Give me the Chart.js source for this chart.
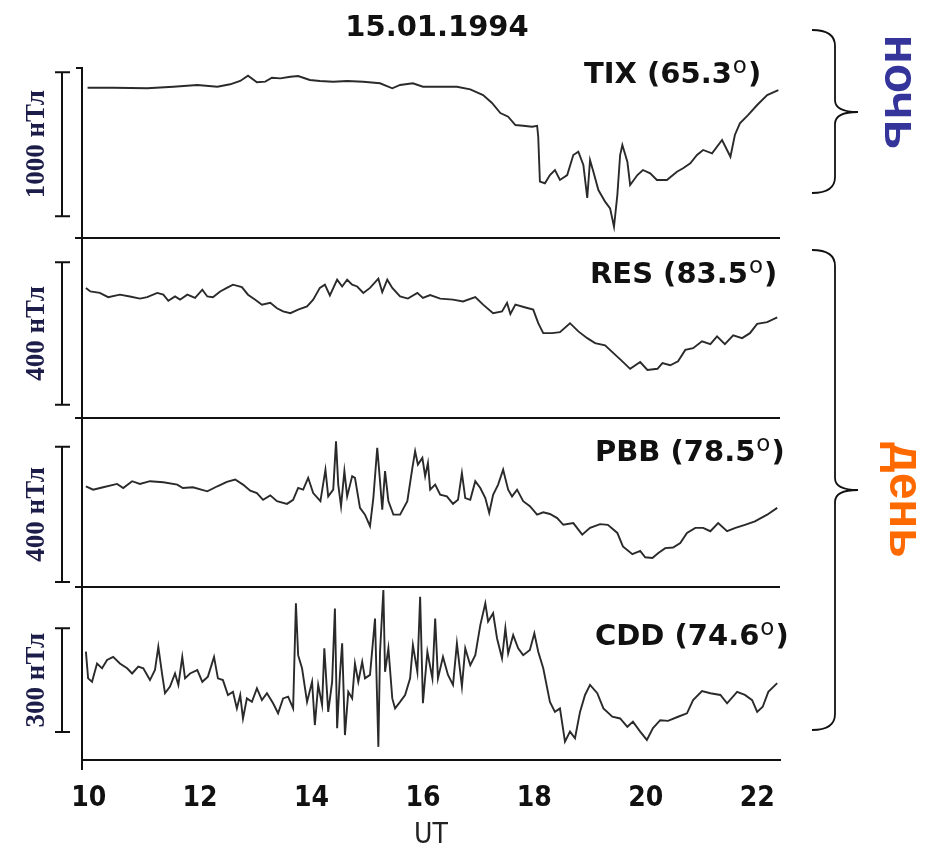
<!DOCTYPE html>
<html>
<head>
<meta charset="utf-8">
<script src="https://cdn.jsdelivr.net/npm/chart.js@4.4.0/dist/chart.umd.min.js"></script>
<style>
  html, body { margin: 0; padding: 0; background: #fff; }
</style>
</head>
<body>
<canvas id="myChart" width="934" height="850"></canvas>
<script>
// ---- data (ΔH in nT, time in UT hours) ----
const xTicks = [10, 12, 14, 16, 18, 20, 22];
const stations = ['TIX', 'RES', 'PBB', 'CDD'];
const latitudes = ['65.3', '83.5', '78.5', '74.6'];
const barNT = [1000, 400, 400, 300];
const barFrom = [-890, -322, -281, -179];
const axisMin = [-1041, -359, -296, -260];
const axisMax = [139, 146, 204, 240];
const panelWeight = [170, 180, 169, 173];
const sideText = ['ночь', 'день'];

const tixTime = [9.98,10.44,11.05,11.52,11.95,12.31,12.54,12.72,12.86,13.02,13.17,13.29,13.44,13.62,13.76,13.97,14.15,14.39,14.64,14.93,
  15.23,15.45,15.59,15.82,16.00,16.25,16.61,16.85,17.08,17.24,17.39,17.53,17.66,17.80,17.96,18.05,18.07,18.10,18.19,18.28,
  18.37,18.46,18.59,18.70,18.79,18.88,18.95,19.00,19.06,19.15,19.27,19.36,19.43,19.49,19.54,19.58,19.67,19.72,19.85,19.95,
  20.08,20.20,20.38,20.56,20.67,20.80,20.92,21.03,21.19,21.37,21.52,21.60,21.69,21.84,22.00,22.18,22.38];
const tixNT = [2,2,-2,9,21,9,26,49,85,40,44,71,67,78,83,56,49,44,49,44,
  33,-2,21,33,9,9,9,-9,-49,-104,-174,-199,-257,-262,-269,-262,-338,-650,-661,-604,
  -569,-638,-604,-465,-442,-534,-763,-500,-581,-708,-789,-835,-963,-743,-465,-396,-511,-673,-604,-569,
  -592,-638,-638,-581,-557,-523,-465,-430,-453,-361,-477,-326,-245,-187,-118,-49,-14];

const resTime = [9.95,10.03,10.20,10.35,10.56,10.74,10.92,11.05,11.23,11.34,11.43,11.55,11.64,11.77,11.91,12.04,12.13,12.23,12.36,12.48,
  12.59,12.75,12.86,12.99,13.11,13.26,13.38,13.49,13.62,13.76,13.92,14.03,14.15,14.24,14.33,14.46,14.55,14.64,14.73,14.82,
  14.93,15.05,15.20,15.27,15.36,15.45,15.59,15.73,15.90,16.00,16.13,16.31,16.54,16.72,16.94,17.08,17.26,17.42,17.51,17.57,
  17.66,17.84,17.98,18.07,18.16,18.32,18.46,18.64,18.79,18.95,19.09,19.27,19.42,19.58,19.72,19.90,20.03,20.21,20.30,20.44,
  20.58,20.71,20.85,21.01,21.16,21.28,21.42,21.57,21.73,21.87,22.00,22.18,22.36];
const resNT = [6,-4,-8,-20,-13,-18,-24,-20,-8,-13,-30,-18,-27,-13,-22,1,-18,-20,-4,6,
  15,8,-13,-27,-41,-36,-51,-60,-65,-55,-46,-27,6,15,-15,29,10,29,15,10,
  -8,6,32,-6,29,6,-18,-24,-8,-22,-14,-24,-27,-32,-20,-41,-65,-60,-36,-67,
  -41,-49,-55,-93,-121,-121,-118,-93,-116,-135,-149,-155,-177,-200,-221,-202,-224,-221,-205,-211,
  -200,-168,-163,-144,-152,-130,-152,-127,-135,-121,-95,-90,-77];

const pbbTime = [9.95,10.08,10.26,10.51,10.62,10.78,10.92,11.10,11.34,11.59,11.69,11.87,12.13,12.31,12.48,12.63,12.77,12.90,13.02,13.13,
  13.26,13.38,13.56,13.67,13.76,13.85,13.94,14.03,14.16,14.25,14.30,14.39,14.44,14.48,14.53,14.59,14.64,14.73,14.78,14.87,
  14.96,15.05,15.11,15.18,15.23,15.27,15.32,15.38,15.47,15.59,15.72,15.81,15.86,15.91,15.99,16.04,16.09,16.13,16.22,16.31,
  16.43,16.54,16.63,16.70,16.76,16.85,16.94,17.03,17.12,17.19,17.26,17.35,17.44,17.53,17.60,17.69,17.80,17.92,18.05,18.16,
  18.28,18.41,18.52,18.70,18.86,19.00,19.18,19.32,19.49,19.59,19.76,19.90,19.99,20.12,20.22,20.35,20.49,20.62,20.74,20.89,
  21.03,21.16,21.30,21.46,21.61,21.78,21.96,22.18,22.36];
const pbbNT = [2,-8,-1,9,-3,17,9,17,14,7,-3,-1,-13,2,15,22,7,-11,-18,-38,
  -25,-42,-50,-38,-3,-8,27,-18,-42,51,-28,-8,135,7,-57,47,-28,32,27,-62,
  -82,-116,-33,116,17,-67,47,-42,-82,-82,-42,56,106,66,86,32,71,-8,7,-23,
  -28,-50,-38,41,-33,-38,17,-3,-33,-77,-23,7,51,-8,-28,-8,-42,-57,-82,-75,
  -80,-92,-112,-107,-141,-121,-110,-112,-136,-176,-199,-189,-208,-210,-196,-181,-179,-166,-136,-121,
  -121,-131,-107,-131,-121,-112,-102,-82,-62];

const cddTime = [9.95,9.99,10.06,10.15,10.24,10.33,10.44,10.56,10.69,10.78,10.89,10.98,11.10,11.19,11.25,11.32,11.37,11.46,11.55,11.61,
  11.68,11.73,11.82,11.95,12.04,12.14,12.25,12.32,12.41,12.50,12.59,12.66,12.72,12.77,12.84,12.93,13.02,13.11,13.20,13.31,
  13.40,13.49,13.58,13.67,13.72,13.76,13.83,13.92,14.01,14.06,14.12,14.19,14.23,14.30,14.37,14.42,14.46,14.51,14.55,14.60,
  14.66,14.73,14.78,14.84,14.91,14.96,15.05,15.14,15.20,15.23,15.29,15.32,15.38,15.45,15.50,15.59,15.68,15.77,15.82,15.90,
  15.95,16.00,16.08,16.17,16.22,16.27,16.36,16.45,16.54,16.61,16.70,16.76,16.85,16.94,17.03,17.12,17.17,17.26,17.33,17.42,
  17.48,17.53,17.62,17.71,17.80,17.92,18.00,18.07,18.16,18.28,18.37,18.46,18.55,18.64,18.73,18.82,18.91,19.00,19.13,19.24,
  19.40,19.54,19.67,19.77,19.90,20.02,20.13,20.26,20.40,20.58,20.74,20.85,21.01,21.16,21.34,21.46,21.64,21.78,21.91,22.00,
  22.10,22.20,22.36];
const cddNT = [53,-24,-34,19,5,29,38,19,5,-10,10,5,-29,0,67,-14,-67,-48,-10,-43,
  38,-24,-10,0,-34,-19,38,-24,-29,-72,-63,-111,-72,-140,-82,-92,-53,-87,-67,-96,
  -125,-82,-77,-111,193,43,5,-92,-34,-159,-43,-101,63,-121,-34,178,-168,-14,77,-188,
  -63,-82,19,-34,24,-24,-14,149,-222,53,231,-5,63,-82,-111,-92,-72,-24,72,-5,
  212,-96,53,-24,149,-24,38,-14,-43,77,-48,63,14,43,130,193,140,164,92,34,
  121,48,101,63,43,58,106,53,5,-92,-121,-111,-207,-178,-197,-121,-72,-43,-67,-111,
  -135,-140,-164,-149,-178,-202,-168,-145,-147,-135,-125,-87,-61,-67,-72,-96,-63,-72,-87,-121,
  -106,-63,-38];

const series = [[tixTime, tixNT], [resTime, resNT], [pbbTime, pbbNT], [cddTime, cddNT]];
const ids = stations.map(s => 'y' + s);

// ---- layout / style ----
const narrow = '"Liberation Sans Narrow", "DejaVu Sans Condensed", sans-serif';
const labelPos = [[584, 15], [590, 45], [595, 43], [595, 58]]; // left x, baseline below panel top

const scales = {
  x: {
    type: 'linear', min: 9.88, max: 22.41,
    grid: { display: false, drawTicks: false },
    border: { display: true, color: '#111', width: 2 },
    afterBuildTicks: s => { s.ticks = xTicks.map(v => ({ value: v })); },
    ticks: { padding: 22, color: '#111', maxRotation: 0, autoSkip: false,
      font: { family: narrow, size: 28, weight: 'bold' } },
    title: { display: true, text: 'UT', color: '#222', padding: 0,
      font: { family: narrow, size: 28, lineHeight: 1 } },
    afterFit: s => { s.height = 90; }
  }
};
// bottom panel first: left-side stacked boxes are laid out in reverse order
for (let i = stations.length - 1; i >= 0; i--) {
  scales[ids[i]] = {
    type: 'linear', position: 'left', stack: 'panels', stackWeight: panelWeight[i],
    min: axisMin[i], max: axisMax[i],
    grid: { display: false, drawTicks: false },
    ticks: { display: false },
    border: { display: true, color: '#111', width: 2 },
    afterFit: s => { s.width = 0; }
  };
}

function brace(ctx, x0, top, tip, bottom) {
  const sx = x0 + 23, tx = x0 + 46, r = 16;
  ctx.beginPath();
  ctx.moveTo(x0, top);
  ctx.quadraticCurveTo(sx, top, sx, top + r);
  ctx.lineTo(sx, tip - 12);
  ctx.quadraticCurveTo(sx, tip, tx, tip);
  ctx.quadraticCurveTo(sx, tip, sx, tip + 12);
  ctx.lineTo(sx, bottom - r);
  ctx.quadraticCurveTo(sx, bottom, x0, bottom);
  ctx.stroke();
}

const decor = {
  id: 'decor',
  afterDraw(chart) {
    const { ctx, chartArea: a, scales: sc } = chart;
    ctx.save();
    ctx.strokeStyle = '#111';
    ctx.lineWidth = 2;

    // panel separators and small ticks on the left line
    ctx.beginPath();
    ids.forEach((id, i) => {
      if (i < ids.length - 1) {
        const b = Math.round(sc[id].bottom);
        ctx.moveTo(a.left - 7, b); ctx.lineTo(a.right, b);
      }
    });
    ctx.moveTo(a.left - 6, a.top); ctx.lineTo(a.left, a.top);
    ctx.moveTo(a.left, a.bottom); ctx.lineTo(a.left, a.bottom + 10);
    ctx.stroke();

    // scale bars with their labels
    ids.forEach((id, i) => {
      const s = sc[id];
      const y1 = s.getPixelForValue(barFrom[i]);
      const y2 = s.getPixelForValue(barFrom[i] + barNT[i]);
      const bx = 62;
      ctx.beginPath();
      ctx.moveTo(bx, y1); ctx.lineTo(bx, y2);
      ctx.moveTo(bx - 7, y1); ctx.lineTo(bx + 8, y1);
      ctx.moveTo(bx - 7, y2); ctx.lineTo(bx + 8, y2);
      ctx.stroke();
      ctx.save();
      ctx.translate(36, (y1 + y2) / 2);
      ctx.rotate(-Math.PI / 2);
      ctx.font = 'bold 27px "Liberation Serif", serif';
      ctx.textAlign = 'center';
      ctx.textBaseline = 'middle';
      ctx.fillStyle = '#1d1d4a';
      ctx.fillText(barNT[i] + ' нТл', 0, 1);
      ctx.restore();
    });

    // station labels
    ctx.fillStyle = '#111';
    ids.forEach((id, i) => {
      const x = labelPos[i][0], y = sc[id].top + labelPos[i][1];
      ctx.font = 'bold 29px "DejaVu Sans", sans-serif';
      ctx.textAlign = 'left';
      ctx.textBaseline = 'alphabetic';
      const head = stations[i] + ' (' + latitudes[i];
      ctx.fillText(head, x, y);
      let w = ctx.measureText(head).width;
      ctx.font = '23px "DejaVu Sans", sans-serif';
      ctx.fillText('o', x + w + 1, y - 10);
      w += ctx.measureText('o').width + 2;
      ctx.font = 'bold 29px "DejaVu Sans", sans-serif';
      ctx.fillText(')', x + w, y);
    });

    // date title
    ctx.font = 'bold 29px "DejaVu Sans", sans-serif';
    ctx.textAlign = 'center';
    ctx.fillText('15.01.1994', (a.left + a.right) / 2 + 6, 36);

    // night / day braces
    ctx.lineWidth = 1.8;
    brace(ctx, 812, 30, 112, 193);
    brace(ctx, 812, 250, 490, 730);
    ctx.font = 'bold 48px "Liberation Sans", Arial, sans-serif';
    ctx.textBaseline = 'middle';
    [[sideText[0], 898, 92, '#34349a'], [sideText[1], 903, 500, '#ff6a00']].forEach(t => {
      ctx.save();
      ctx.translate(t[1], t[2]);
      ctx.rotate(Math.PI / 2);
      ctx.fillStyle = t[3];
      ctx.fillText(t[0], 0, 0);
      ctx.restore();
    });
    ctx.restore();
  }
};

const ctx = document.getElementById('myChart').getContext('2d');
const myChart = new Chart(ctx, {
  type: 'line',
  data: {
    datasets: stations.map((s, i) => ({
      label: s,
      yAxisID: ids[i],
      data: series[i][0].map((t, k) => ({ x: t, y: series[i][1][k] })),
      borderColor: '#2a2a2a',
      borderWidth: 1.9,
      pointRadius: 0,
      tension: 0,
      fill: false
    }))
  },
  options: {
    responsive: false,
    animation: false,
    layout: { padding: { left: 82, right: 154, top: 68, bottom: 0 } },
    plugins: { legend: { display: false }, tooltip: { enabled: false }, title: { display: false } },
    scales: scales
  },
  plugins: [decor]
});
</script>
</body>
</html>
